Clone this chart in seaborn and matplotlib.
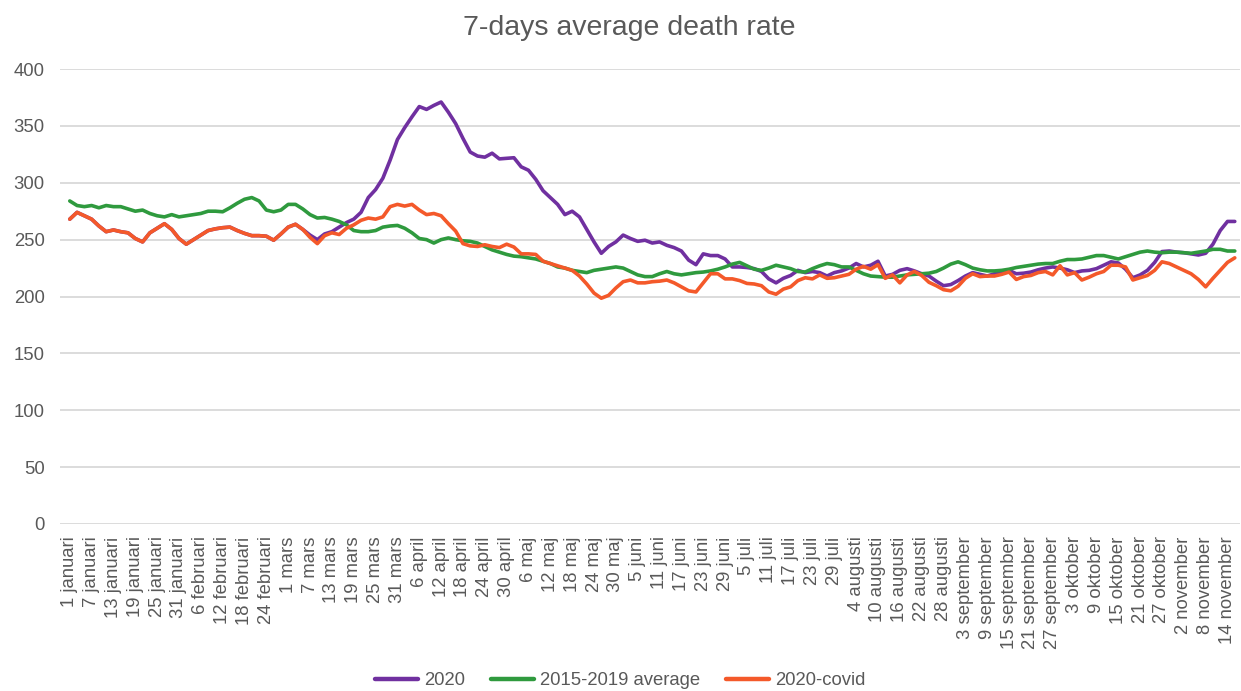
import matplotlib
matplotlib.use("Agg")
import matplotlib.pyplot as plt
import seaborn as sns
import pandas as pd
from matplotlib.lines import Line2D

# ---- data (every second day from 1 januari 2020) ----
days = list(range(0, 321, 2))

avg_2015_2019 = [
    284, 280, 279, 280, 278, 280, 279, 279, 277, 275,
    276, 273, 271, 270, 272, 270, 271, 272, 273, 275,
    275, 274.5, 278, 282, 285.5, 287, 284, 276, 274.5, 276,
    281, 281, 277, 272, 269, 269.5, 268, 266, 263, 258,
    257, 257, 258, 261, 262, 262.5, 260, 256, 251, 250,
    247, 250, 251.5, 250, 249, 248.5, 247, 244, 241, 239,
    237, 235.5, 235, 234, 233, 231, 229, 226, 225, 223,
    222, 221, 223, 224, 225, 226, 225, 222, 219, 217.5,
    217.5, 220, 222, 220, 219, 220, 221, 221.5, 222.5, 224,
    226, 228.5, 230, 227, 224, 223, 225, 227.5, 226, 224.5,
    222, 221.5, 224.5, 227, 229, 228, 226, 226, 223, 220,
    218, 217.5, 217, 217, 218, 219, 219.5, 220, 220.5, 222,
    225, 228.5, 230.5, 228, 225, 223.5, 222.5, 222.5, 223, 224,
    225.5, 226.5, 227.5, 228.5, 229, 229, 231, 232.5, 232.5, 233,
    234.5, 236, 236, 234.5, 233, 235, 237, 239, 240, 239,
    238.5, 239, 239, 238.5, 238, 239, 240, 241.5, 241.5, 240,
    240,
]

covid_2020 = [
    268, 274, 271, 268, 262, 257, 258.5, 257, 256, 251,
    248, 256, 260, 264, 259, 251, 246, 250, 254, 258,
    259.5, 260.5, 261, 258, 255.5, 253.5, 253.5, 253, 249.5, 255,
    261, 263.5, 259, 252, 246.5, 253.5, 256, 254.5, 260, 263,
    267, 269, 268, 270, 279, 281, 279.5, 281, 276, 272,
    273, 271, 264, 257.5, 246.5, 244.5, 244, 245.5, 244, 243,
    246, 243.5, 237.5, 237.5, 237, 231, 229, 227, 225, 223,
    218, 211, 203, 198.5, 201, 207.5, 213, 214.5, 212, 212,
    213, 213.5, 214.5, 212, 208.5, 205, 204, 212, 220, 220,
    215.5, 215.5, 214, 211.5, 211, 209.5, 204, 202, 206.5, 208.5,
    214, 216.5, 215.5, 219, 216, 216.5, 218, 219.5, 224, 226.5,
    224, 228, 216, 219, 212, 219, 222, 218.5, 212.5, 209.5,
    206, 205, 209, 216, 220, 217.5, 218, 218, 219.5, 221.5,
    215, 217.5, 218.5, 221, 222, 219, 227, 219, 221, 214.5,
    217, 220, 222, 227.5, 227.5, 226, 214.5, 216.5, 218.5, 223,
    230.5, 229, 226, 223, 220, 215, 208.5, 216, 223, 230,
    234,
]

total_2020 = [
    268, 274, 271, 268, 262, 257, 258.5, 257, 256, 251,
    248, 256, 260, 264, 259, 251, 246, 250, 254, 258,
    259.5, 260.5, 261, 258, 255.5, 253.5, 253.5, 253, 249.5, 255,
    261, 263.5, 259, 254, 250, 255, 257, 261, 265, 268,
    274, 287, 294, 304, 320, 338, 348.5, 358, 367, 364.5,
    368, 371, 362, 352, 339, 327, 323.5, 322.5, 326, 321,
    321.5, 322, 314, 311, 303, 293, 287, 281, 272, 275,
    270, 259, 248, 238, 244, 248, 254, 251, 248.5, 249.5,
    247, 248, 245, 243, 240, 232, 228, 237.5, 236, 236,
    233, 226, 226, 225.5, 224.5, 222, 215.5, 212, 216, 218.5,
    223, 221, 222, 221, 218, 221, 222.5, 225, 229, 226,
    227.5, 231, 218, 219.5, 223, 224.5, 222.5, 220, 218, 213.5,
    209.5, 210.5, 214, 218, 221, 219.5, 218, 220, 222, 223,
    220, 220.5, 221.5, 223.5, 225, 226, 225, 223.5, 221, 222.5,
    223, 224.5, 227.5, 230.5, 229.5, 224, 216.5, 219, 223, 230,
    239.5, 240, 239, 238.5, 237.5, 236.5, 238, 246, 258, 266,
    266,
]

series_names = ["2020", "2015-2019 average", "2020-covid"]
series_colors = ["#7030A0", "#2F9A3E", "#F4592A"]

tick_days = list(range(0, 319, 6))
tick_labels = [
    "1 januari", "7 januari", "13 januari", "19 januari", "25 januari", "31 januari",
    "6 februari", "12 februari", "18 februari", "24 februari",
    "1 mars", "7 mars", "13 mars", "19 mars", "25 mars", "31 mars",
    "6 april", "12 april", "18 april", "24 april", "30 april",
    "6 maj", "12 maj", "18 maj", "24 maj", "30 maj",
    "5 juni", "11 juni", "17 juni", "23 juni", "29 juni",
    "5 juli", "11 juli", "17 juli", "23 juli", "29 juli",
    "4 augusti", "10 augusti", "16 augusti", "22 augusti", "28 augusti",
    "3 september", "9 september", "15 september", "21 september", "27 september",
    "3 oktober", "9 oktober", "15 oktober", "21 oktober", "27 oktober",
    "2 november", "8 november", "14 november",
]
y_ticks = [0, 50, 100, 150, 200, 250, 300, 350, 400]

# ---- long-form table ----
frames = []
for name, vals in zip(series_names, [total_2020, avg_2015_2019, covid_2020]):
    frames.append(pd.DataFrame({"day": days, "value": vals, "series": name}))
df = pd.concat(frames, ignore_index=True)

sns.set_theme(style="white")
plt.rcParams["font.family"] = ["Liberation Sans", "DejaVu Sans"]

fig = plt.figure(figsize=(12.41, 6.91), dpi=100)
ax = fig.add_axes([0.0483, 0.2417, 0.9505, 0.6584])

sns.lineplot(data=df, x="day", y="value", hue="series", hue_order=series_names,
             palette=series_colors, linewidth=2.6, ax=ax, legend=False,
             estimator=None, sort=True)
for ln in ax.lines:
    ln.set_solid_joinstyle("round")
    ln.set_solid_capstyle("round")

grey_txt = "#595959"
ax.set_ylim(0, 400)
ax.set_xlim(-2.7, 321.3)
ax.set_yticks(y_ticks)
ax.set_yticklabels([str(v) for v in y_ticks])
ax.set_xticks(tick_days)
ax.set_xticklabels(tick_labels, rotation=90, ha="center", va="top")
ax.tick_params(axis="both", length=0, labelsize=13.3, colors=grey_txt)
ax.tick_params(axis="y", pad=11)
ax.tick_params(axis="x", pad=9)
ax.grid(axis="y", color="#D9D9D9", linewidth=1.3)
ax.grid(axis="x", visible=False)
ax.set_axisbelow(True)
for s in ax.spines.values():
    s.set_visible(False)
ax.set_xlabel("")
ax.set_ylabel("")

fig.text(0.507, 0.959, "7-days average death rate", ha="center", va="center",
         fontsize=20.5, color=grey_txt)

handles = [Line2D([0], [0], color=c, linewidth=3.2) for c in series_colors]
fig.legend(handles, series_names, loc="center", bbox_to_anchor=(0.5, 0.0145),
           ncol=3, frameon=False, fontsize=13.3, handlelength=2.3,
           handletextpad=0.35, columnspacing=1.4, labelcolor=grey_txt)

fig.savefig("out.png", dpi=100)
